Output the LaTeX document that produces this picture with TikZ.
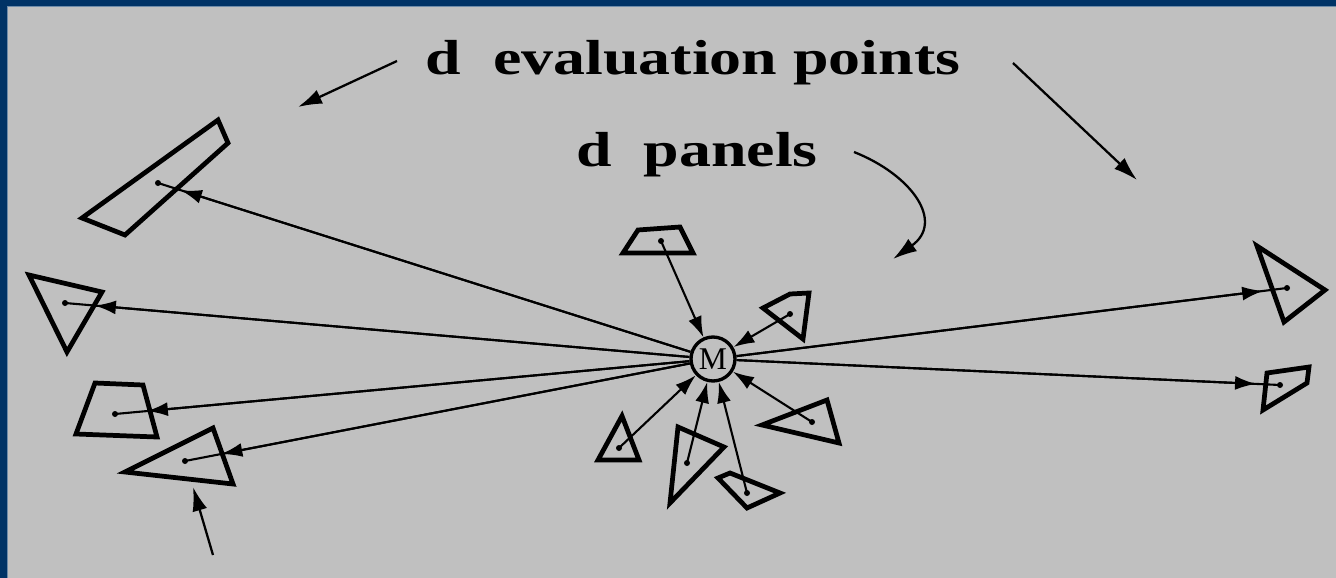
\documentclass[tikz,border=0pt]{standalone}
\usepackage{fontspec}
\setmainfont{Liberation Serif}
\usetikzlibrary{arrows.meta}
\definecolor{frameblue}{RGB}{0,51,102}
\definecolor{edgeblue}{RGB}{110,140,170}
\definecolor{slidegray}{RGB}{192,192,192}
\tikzset{
  panel/.style={line width=2.7pt, line join=miter},
  ray/.style={line width=1.2pt},
  arr/.style={-{Latex[length=4.2mm,width=2.8mm]}},
  pointer/.style={line width=1.3pt, -{Latex[length=4.8mm,width=3mm]}},
  title/.style={anchor=base, inner sep=0pt}
}
\newcommand{\bigbold}[1]{\scalebox{1.3}[1]{\fontsize{28}{32}\selectfont\bfseries #1}}
\begin{document}
\begin{tikzpicture}[x=0.02cm,y=-0.02cm]
\useasboundingbox (0,0) rectangle (1336,578);
\fill [frameblue] (0,0) rectangle (1336,578);
\fill [slidegray] (7,6) rectangle (1336,578);
\draw [edgeblue, line width=0.5pt] (7,578) -- (7,6) -- (1336,6);

\node [title] (evaltxt) at (693,74) {\bigbold{d\hspace{0.5em}evaluation points}};
\node [title] (paneltxt) at (697,166) {\bigbold{d\hspace{0.5em}panels}};

% panels far away
\draw [panel] (82,218) -- (218,120) -- (228,143) -- (125,235) -- cycle;
\draw [panel] (29,275) -- (102,292) -- (67,352) -- cycle;
\draw [panel] (95,383) -- (143,385) -- (157,437) -- (76,434) -- cycle;
\draw [panel] (125,472) -- (213,428) -- (233,484) -- cycle;
\draw [panel] (1257,246) -- (1325,290) -- (1284,322) -- cycle;
\draw [panel] (1267,373) -- (1309,367) -- (1307,383) -- (1263,410) -- cycle;
% panels close by
\draw [panel] (623,253) -- (638,230) -- (680,227) -- (693,253) -- cycle;
\draw [panel] (763,308) -- (790,294) -- (809,293) -- (803,339) -- cycle;
\draw [panel] (762,425) -- (827,400) -- (839,443) -- cycle;
\draw [panel] (598,460) -- (622,416) -- (639,460) -- cycle;
\draw [panel] (670,503) -- (678,427) -- (724,447) -- cycle;
\draw [panel] (718,478) -- (730,473) -- (780,493) -- (747,508) -- cycle;

\coordinate (e1) at (158,183);
\coordinate (e2) at (65,303);
\coordinate (e3) at (115,414);
\coordinate (e4) at (185,461);
\coordinate (e5) at (1287,288);
\coordinate (e6) at (1280,385);
\coordinate (p1) at (661,241);
\coordinate (p2) at (790,314);
\coordinate (p3) at (812,422);
\coordinate (p4) at (619,448);
\coordinate (p5) at (687,463);
\coordinate (p6) at (747,493);

\node [circle, draw, line width=1.9pt, minimum size=0.88cm, inner sep=0pt,
  font=\fontsize{18}{20}\selectfont] (M) at (713,359) {M};

\foreach \p/\s in {e1/0.48,e2/0.6,e3/0.64,e4/0.74,e5/0.48,e6/0.48}{
\draw [ray] (M) -- (\p);
\draw [ray,arr,shorten >=\s cm] (M) -- (\p);
}
\foreach \p in {p1,p2,p3,p4,p5,p6}{
\draw [ray,arr] (\p) -- (M);
}
\foreach \p in {e1,e2,e3,e4,e5,e6,p1,p2,p3,p4,p5,p6}{
\fill (\p) circle [radius=0.06cm];
}

\coordinate (l1a) at (397,61);
\coordinate (l1b) at (298,107);
\coordinate (l2a) at (1013,63);
\coordinate (l2b) at (1137,180);
\coordinate (l3a) at (854,152);
\coordinate (l3b) at (893,259);
\coordinate (l4a) at (213,555);
\coordinate (l4b) at (193,487);
\draw [pointer] (l1a) -- (l1b);
\draw [pointer] (l2a) -- (l2b);
\draw [pointer] (l3a) .. controls (912,175) and (945,222) .. (l3b);
\draw [pointer] (l4a) -- (l4b);
\end{tikzpicture}
\end{document}
